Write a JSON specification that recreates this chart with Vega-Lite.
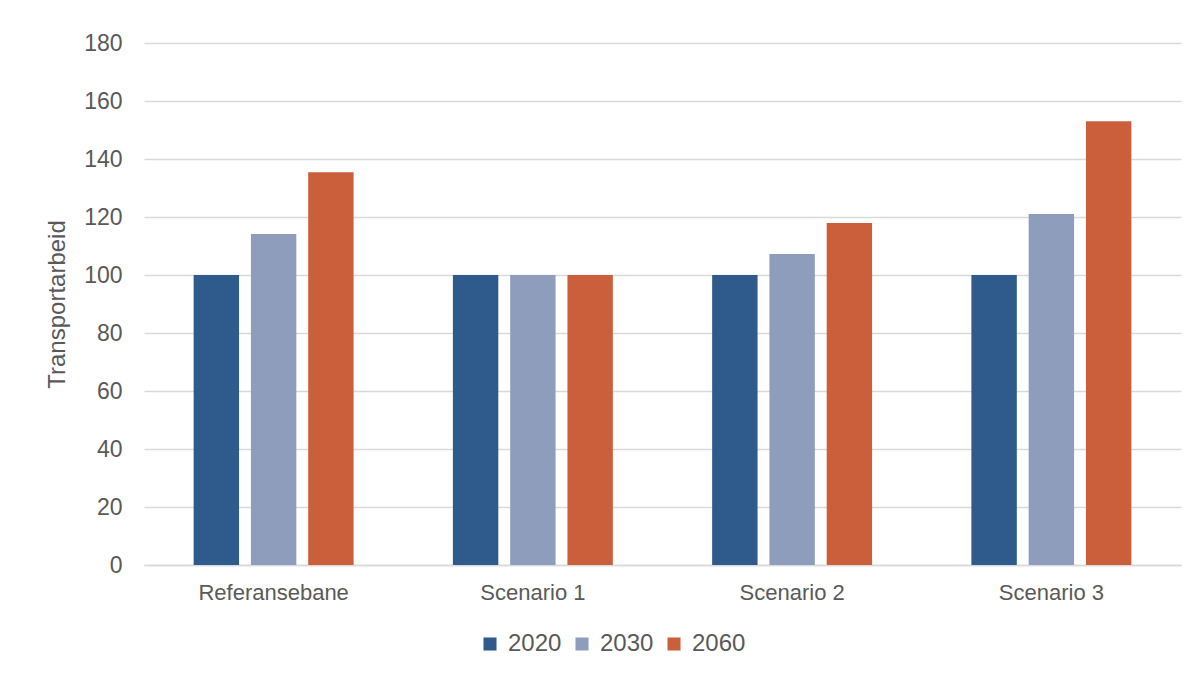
{
  "$schema": "https://vega.github.io/schema/vega-lite/v6.json",
  "width": 1037,
  "height": 522,
  "autosize": {"type": "none"},
  "padding": {"left": 144, "top": 43, "right": 19, "bottom": 110},
  "background": "white",
  "data": {
    "values": [
      {"scenario": "Referansebane", "year": "2020", "value": 100},
      {"scenario": "Referansebane", "year": "2030", "value": 114.1},
      {"scenario": "Referansebane", "year": "2060", "value": 135.4},
      {"scenario": "Scenario 1", "year": "2020", "value": 100},
      {"scenario": "Scenario 1", "year": "2030", "value": 100},
      {"scenario": "Scenario 1", "year": "2060", "value": 100},
      {"scenario": "Scenario 2", "year": "2020", "value": 100},
      {"scenario": "Scenario 2", "year": "2030", "value": 107.2},
      {"scenario": "Scenario 2", "year": "2060", "value": 117.9},
      {"scenario": "Scenario 3", "year": "2020", "value": 100},
      {"scenario": "Scenario 3", "year": "2030", "value": 121},
      {"scenario": "Scenario 3", "year": "2060", "value": 153}
    ]
  },
  "mark": {"type": "bar"},
  "encoding": {
    "x": {
      "field": "scenario",
      "type": "nominal",
      "sort": null,
      "title": null,
      "scale": {"paddingInner": 0.383, "paddingOuter": 0.1915},
      "axis": {
        "labelAngle": 0,
        "labelFont": "Liberation Sans",
        "labelFontSize": 22,
        "labelColor": "#595959",
        "labelPadding": 17,
        "ticks": false,
        "domainColor": "#D9D9D9",
        "domainWidth": 1.5,
        "grid": false
      }
    },
    "xOffset": {
      "field": "year",
      "type": "nominal",
      "scale": {"paddingInner": 0.207, "paddingOuter": 0}
    },
    "y": {
      "field": "value",
      "type": "quantitative",
      "title": "Transportarbeid",
      "scale": {"domain": [0, 180]},
      "axis": {
        "values": [0, 20, 40, 60, 80, 100, 120, 140, 160, 180],
        "labelFont": "Liberation Sans",
        "labelFontSize": 23,
        "labelColor": "#595959",
        "labelPadding": 22,
        "ticks": false,
        "domain": false,
        "gridColor": "#D9D9D9",
        "gridWidth": 1.5,
        "titleFont": "Liberation Sans",
        "titleFontSize": 24,
        "titleFontWeight": "normal",
        "titleColor": "#595959",
        "titlePadding": 14
      }
    },
    "color": {
      "field": "year",
      "type": "nominal",
      "title": null,
      "scale": {"domain": ["2020", "2030", "2060"], "range": ["#2E5A8C", "#8F9DBD", "#CB5F3B"]},
      "legend": {
        "orient": "none",
        "direction": "horizontal",
        "legendX": 334,
        "legendY": 589,
        "symbolType": "square",
        "symbolSize": 170,
        "symbolStrokeWidth": 0,
        "labelFont": "Liberation Sans",
        "labelFontSize": 24,
        "labelColor": "#595959",
        "labelOffset": 6,
        "columnPadding": 8
      }
    }
  },
  "config": {
    "view": {"stroke": null}
  }
}
